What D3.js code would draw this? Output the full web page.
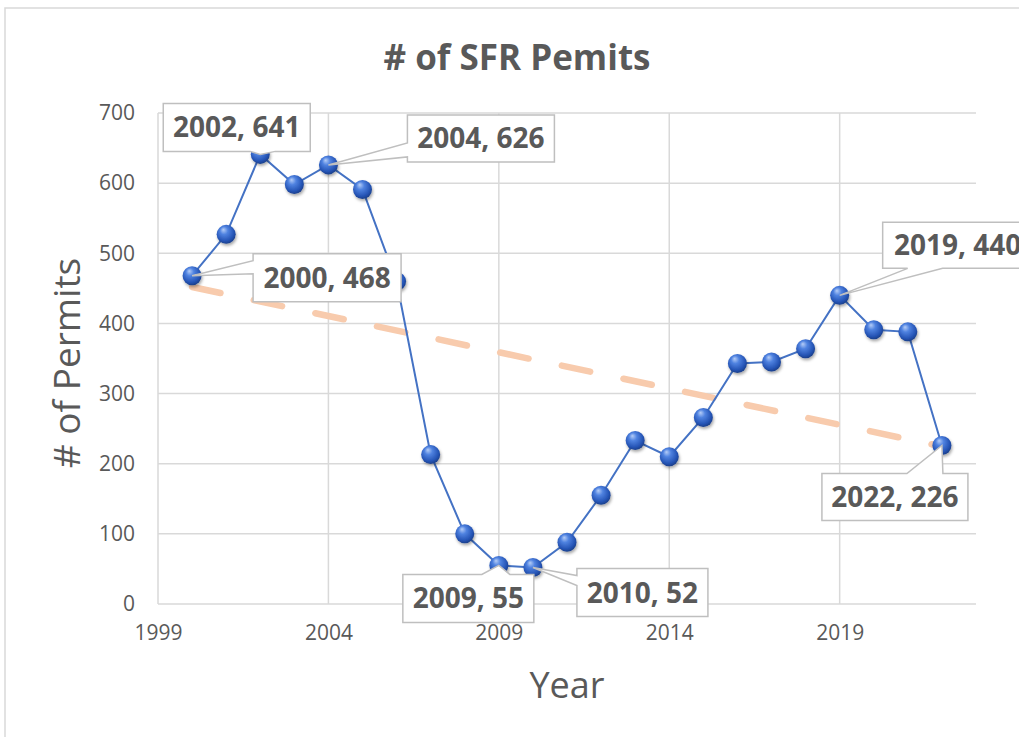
<!DOCTYPE html>
<html>
<head>
<meta charset="utf-8">
<script src="https://cdn.jsdelivr.net/npm/d3@7"></script>
<style>
  body { margin: 0; background: #fff; }
  text { font-family: "Open Sans", sans-serif; fill: #595959; }
</style>
</head>
<body>
<div id="chart"></div>
<script>
// Data
const years = [2000, 2001, 2002, 2003, 2004, 2005, 2006, 2007, 2008, 2009, 2010, 2011,
               2012, 2013, 2014, 2015, 2016, 2017, 2018, 2019, 2020, 2021, 2022];
const permits = [468, 527, 641, 598, 626, 591, 460, 213, 100, 55, 52, 88,
                 155, 233, 210, 266, 343, 345, 364, 440, 391, 388, 226];
const yTicks = [0, 100, 200, 300, 400, 500, 600, 700];
const xTicks = [1999, 2004, 2009, 2014, 2019];
const labelYears = [2000, 2002, 2004, 2009, 2010, 2019, 2022];

// Callout placement (box offset from point, size, side where the wedge sits)
const callouts = {
  2000: { dx: 61,  dy: -22, w: 148, h: 48, side: "left",   b0: 7,  b1: 20 },
  2002: { dx: -97, dy: -51, w: 147, h: 48, side: "bottom", b0: 87, b1: 112 },
  2004: { dx: 79,  dy: -50, w: 147, h: 47, side: "left",   b0: 28, b1: 42 },
  2009: { dx: -96, dy: 9,   w: 131, h: 48, side: "top",    b0: 79, b1: 107 },
  2010: { dx: 44,  dy: 1,   w: 131, h: 48, side: "left",   b0: 7,  b1: 17 },
  2019: { dx: 43,  dy: -73, w: 150, h: 46, side: "bottom", b0: 25, b1: 60 },
  2022: { dx: -120, dy: 28, w: 146, h: 47, side: "top",    b0: 85, b1: 121 }
};

const width = 1019, height = 737;
const svg = d3.select("#chart").append("svg")
  .attr("width", width).attr("height", height);

// outer chart border
svg.append("rect")
  .attr("x", 5).attr("y", 8).attr("width", 1030).attr("height", 740)
  .attr("fill", "none").attr("stroke", "#d9d9d9").attr("stroke-width", 1.5);

const defs = svg.append("defs");
const grad = defs.append("radialGradient").attr("id", "ball")
  .attr("cx", "45%").attr("cy", "40%").attr("r", "60%")
  .attr("fx", "35%").attr("fy", "25%");
grad.append("stop").attr("offset", "0%").attr("stop-color", "#b5cdf7");
grad.append("stop").attr("offset", "35%").attr("stop-color", "#4f82e0");
grad.append("stop").attr("offset", "80%").attr("stop-color", "#2554b5");
grad.append("stop").attr("offset", "100%").attr("stop-color", "#1b3f8a");
defs.append("filter").attr("id", "shadow")
  .attr("x", "-50%").attr("y", "-50%").attr("width", "200%").attr("height", "200%")
  .append("feDropShadow").attr("dx", 1).attr("dy", 2).attr("stdDeviation", 1.5)
  .attr("flood-color", "#000").attr("flood-opacity", 0.35);

const x = d3.scaleLinear().domain([1999, 2023]).range([158, 976]);
const y = d3.scaleLinear().domain([0, 700]).range([604, 113]);

// gridlines
svg.append("g").selectAll("line").data(yTicks).enter().append("line")
  .attr("x1", x(1999)).attr("x2", x(2023))
  .attr("y1", d => y(d)).attr("y2", d => y(d))
  .attr("stroke", "#d9d9d9").attr("stroke-width", 1.5);
svg.append("g").selectAll("line").data(xTicks).enter().append("line")
  .attr("x1", d => x(d)).attr("x2", d => x(d))
  .attr("y1", y(0)).attr("y2", y(700))
  .attr("stroke", "#d9d9d9").attr("stroke-width", 1.5);

// axes (text only, lines hidden)
const yAxis = svg.append("g").attr("transform", `translate(${x(1999) - 23},0)`)
  .call(d3.axisLeft(y).tickValues(yTicks).tickSize(0).tickPadding(0));
const xAxis = svg.append("g").attr("transform", `translate(0,${y(0) + 16})`)
  .call(d3.axisBottom(x).tickValues(xTicks).tickSize(0).tickFormat(d3.format("d")).tickPadding(5));
[yAxis, xAxis].forEach(a => {
  a.select(".domain").remove();
  a.selectAll("text").style("font-family", '"Open Sans", sans-serif')
    .style("font-size", "21px").attr("fill", "#595959");
});

// titles
svg.append("text").attr("x", 517).attr("y", 70).attr("text-anchor", "middle")
  .style("font-size", "35px").style("font-weight", "bold").text("# of SFR Pemits");
svg.append("text").attr("x", 567).attr("y", 698).attr("text-anchor", "middle")
  .style("font-size", "36px").text("Year");
svg.append("text").attr("transform", "translate(80,363) rotate(-90)")
  .attr("text-anchor", "middle").style("font-size", "37px").text("# of Permits");

// linear trendline (least squares over the series)
const mx = d3.mean(years), my = d3.mean(permits);
const slope = d3.sum(years, (t, i) => (t - mx) * (permits[i] - my)) /
              d3.sum(years, t => (t - mx) * (t - mx));
const trend = t => my + slope * (t - mx);
const yr0 = years[0], yr1 = years[years.length - 1];
svg.append("line")
  .attr("x1", x(yr0)).attr("y1", y(trend(yr0)))
  .attr("x2", x(yr1)).attr("y2", y(trend(yr1)))
  .attr("stroke", "#f8cbad").attr("stroke-width", 6.5)
  .attr("stroke-linecap", "round").attr("stroke-dasharray", "29,34");

// data line
const data = years.map((t, i) => ({ year: t, value: permits[i] }));
svg.append("path").datum(data)
  .attr("fill", "none").attr("stroke", "#4472c4").attr("stroke-width", 2)
  .attr("d", d3.line().x(d => x(d.year)).y(d => y(d.value)));

// markers
svg.append("g").selectAll("circle").data(data).enter().append("circle")
  .attr("cx", d => x(d.year)).attr("cy", d => y(d.value)).attr("r", 9.5)
  .attr("fill", "url(#ball)").attr("filter", "url(#shadow)");

// callout labels
function calloutPath(bx, by, w, h, px, py, c) {
  const pts = [];
  pts.push([bx, by]);
  if (c.side === "top") { pts.push([bx + c.b0, by], [px, py], [bx + c.b1, by]); }
  pts.push([bx + w, by]);
  pts.push([bx + w, by + h]);
  if (c.side === "bottom") { pts.push([bx + c.b1, by + h], [px, py], [bx + c.b0, by + h]); }
  pts.push([bx, by + h]);
  if (c.side === "left") { pts.push([bx, by + c.b1], [px, py], [bx, by + c.b0]); }
  return "M" + pts.map(p => p.join(",")).join("L") + "Z";
}

const lab = svg.append("g").selectAll("g")
  .data(data.filter(d => labelYears.includes(d.year))).enter().append("g");
lab.append("path")
  .attr("d", d => {
    const c = callouts[d.year], px = x(d.year), py = y(d.value);
    return calloutPath(px + c.dx, py + c.dy, c.w, c.h, px, py, c);
  })
  .attr("fill", "#fff").attr("stroke", "#bfbfbf").attr("stroke-width", 1.5);
lab.append("text")
  .attr("x", d => x(d.year) + callouts[d.year].dx + callouts[d.year].w / 2)
  .attr("y", d => y(d.value) + callouts[d.year].dy + callouts[d.year].h / 2 + 10)
  .attr("text-anchor", "middle")
  .style("font-size", "28px").style("font-weight", "bold")
  .text(d => `${d.year}, ${d.value}`);
</script>
</body>
</html>
